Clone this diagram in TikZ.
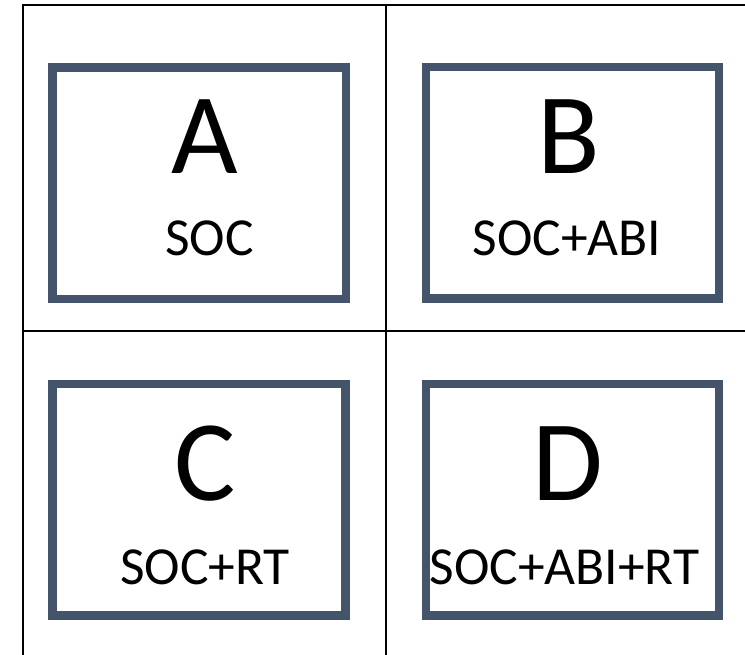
\documentclass[tikz,border=0pt]{standalone}
\usepackage{fontspec}
\setmainfont{Carlito}
\definecolor{boxblue}{HTML}{44546A}
\begin{document}
\begin{tikzpicture}[x=1bp,y=-1bp,
  gridline/.style={line width=2.2bp,black},
  panel/.style={draw=boxblue,line width=8.5bp,fill=none},
  bigletter/.style={anchor=base,inner sep=0pt,font=\fontsize{115bp}{115bp}\selectfont},
  sublabel/.style={anchor=base,inner sep=0pt,font=\fontsize{53.5bp}{60bp}\selectfont}]
\useasboundingbox (0,0) rectangle (745,655);
% grid
\coordinate (tl) at (23,5);
\coordinate (tr) at (745,5);
\coordinate (bl) at (23,655);
\coordinate (mt) at (386,5);
\coordinate (mb) at (386,655);
\coordinate (ml) at (23,331);
\coordinate (mr) at (745,331);
\draw[gridline] (tr) -- (tl) -- (bl);
\draw[gridline] (mt) -- (mb);
\draw[gridline] (ml) -- (mr);
% panels
\draw[panel] (52.5,67.5) rectangle (346,299);
\draw[panel] (426,67) rectangle (719,298.5);
\draw[panel] (52.5,384) rectangle (345.5,615.5);
\draw[panel] (426,384) rectangle (719,615.5);
% texts
\node[bigletter] (la) at (205,173) {A};
\node[sublabel] (sa) at (209.5,255) {SOC};
\node[bigletter] (lb) at (569,173) {B};
\node[sublabel] (sb) at (567,255) {SOC+ABI};
\node[bigletter] (lc) at (205,500) {C};
\node[sublabel] (sc) at (205,584) {SOC+RT};
\node[bigletter] (ld) at (568,500) {D};
\node[sublabel] (sd) at (564.5,584) {SOC+ABI+RT};
\end{tikzpicture}
\end{document}
